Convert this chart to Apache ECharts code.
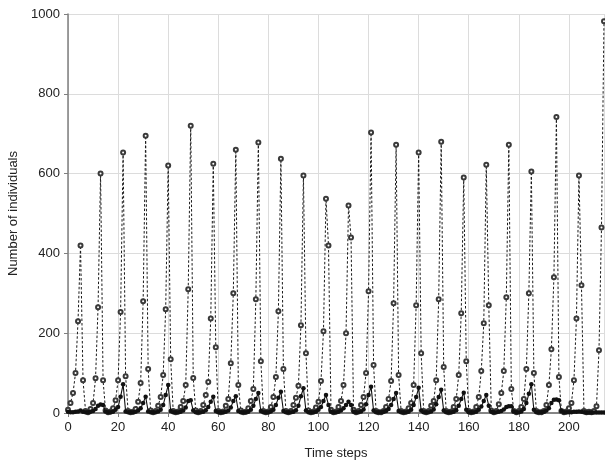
<!DOCTYPE html>
<html>
<head>
<meta charset="utf-8">
<script src="https://cdn.jsdelivr.net/npm/echarts@6/dist/echarts.min.js"></script>
<style>
  html, body { margin: 0; padding: 0; background: #fff; }
  #chart { width: 605px; height: 460px; }
</style>
</head>
<body>
<div id="chart"></div>
<script>
// Prey population per time step (t = 0 .. 214)
const prey = [
  8, 25, 50, 100, 230, 420, 82, 5,
  2, 10, 25, 87, 265, 600, 82, 6, 2,
  4, 12, 32, 82, 253, 653, 92, 5, 2,
  3, 10, 28, 75, 280, 695, 110, 6, 2,
  5, 18, 40, 95, 260, 620, 135, 5, 2,
  4, 15, 30, 70, 310, 720, 88, 6, 2,
  5, 20, 45, 78, 237, 625, 165, 5, 2,
  4, 18, 35, 125, 300, 660, 70, 6, 2,
  3, 12, 30, 60, 285, 678, 130, 5, 2,
  4, 15, 40, 90, 255, 637, 110, 5, 2,
  5, 20, 38, 68, 220, 595, 150, 6, 2,
  4, 14, 28, 80, 205, 537, 420, 8, 2,
  4, 15, 30, 70, 200, 520, 440, 8, 2,
  5, 20, 40, 100, 305, 703, 120, 5, 2,
  2, 5, 15, 35, 80, 275, 672, 95, 5, 2,
  4, 12, 25, 70, 270, 653, 150, 5, 2,
  5, 18, 30, 82, 285, 680, 115, 5, 2,
  4, 15, 35, 95, 250, 590, 130, 5, 2,
  4, 15, 40, 105, 225, 622, 270, 6, 2,
  5, 22, 50, 105, 290, 672, 60, 5, 2,
  5, 15, 35, 110, 300, 605, 100, 5, 2,
  2, 5, 20, 70, 160, 340, 742, 90, 5, 2,
  4, 12, 25, 82, 237, 595, 320, 5, 2, 3, 2, 5, 17, 157, 465, 982
];

// Predator population per time step (t = 0 .. 214)
const predator = [
  3, 2, 2, 3, 4, 6, 3, 2,
  2, 3, 5, 10, 18, 21, 20, 4, 2,
  2, 3, 8, 15, 41, 72, 4, 2, 2,
  2, 3, 6, 12, 25, 41, 4, 2, 2,
  2, 4, 8, 20, 45, 70, 5, 2, 2,
  2, 3, 6, 14, 30, 32, 6, 2, 2,
  2, 3, 7, 15, 28, 41, 5, 2, 2,
  2, 3, 6, 14, 30, 42, 5, 2, 2,
  2, 3, 8, 18, 35, 50, 5, 2, 2,
  2, 4, 8, 20, 38, 53, 5, 2, 2,
  2, 3, 7, 18, 42, 62, 6, 2, 2,
  2, 3, 8, 15, 30, 45, 20, 3, 2,
  2, 3, 6, 12, 20, 28, 20, 3, 2,
  2, 4, 9, 22, 45, 66, 6, 2, 2,
  2, 3, 5, 10, 20, 35, 50, 5, 2, 2,
  2, 3, 8, 20, 40, 63, 6, 2, 2,
  2, 4, 9, 22, 40, 58, 6, 2, 2,
  2, 3, 7, 18, 35, 51, 8, 2, 2,
  2, 3, 8, 16, 30, 45, 18, 3, 2,
  2, 3, 5, 9, 15, 17, 17, 4, 2,
  2, 4, 10, 25, 48, 72, 8, 2, 2,
  2, 3, 6, 12, 25, 33, 34, 32, 5, 2,
  2, 2, 2, 3, 3, 4, 3, 2, 1, 1, 1, 1, 1, 1, 1, 1
];

const xTitle = 'Time steps';
const yTitle = 'Number of individuals';

const pairs = arr => arr.map((v, t) => [t, v]);

const FONT = 'Liberation Sans, Arial, sans-serif';
const axisGray = '#7f7f7f';
const gridGray = '#dcdcdc';

const chart = echarts.init(document.getElementById('chart'), null, { renderer: 'canvas' });
chart.setOption({
  animation: false,
  backgroundColor: '#ffffff',
  grid: { left: 68, right: 1, top: 14, bottom: 47, containLabel: false, outerBoundsMode: 'none' },
  xAxis: [{
    type: 'value', min: 0, max: 214, interval: 20,
    name: xTitle, nameLocation: 'middle', nameGap: 34,
    nameTextStyle: { fontFamily: FONT, fontSize: 13, color: '#222' },
    axisLine: { show: true, onZero: false, lineStyle: { color: axisGray, width: 1.5 } },
    axisTick: { show: true, length: 4, lineStyle: { color: axisGray } },
    axisLabel: { fontFamily: FONT, fontSize: 13, color: '#222', margin: 8, showMaxLabel: false,
                 formatter: v => String(v) },
    splitLine: { show: true, lineStyle: { color: gridGray, width: 1 } }
  }, {
    type: 'value', min: 0, max: 214, position: 'top',
    axisLine: { show: true, lineStyle: { color: axisGray, width: 1.5 } },
    axisTick: { show: false }, axisLabel: { show: false }, splitLine: { show: false }
  }],
  yAxis: {
    type: 'value', min: 0, max: 1000, interval: 200,
    name: yTitle, nameLocation: 'middle', nameGap: 47, nameRotate: 90,
    nameTextStyle: { fontFamily: FONT, fontSize: 13, color: '#222' },
    axisLine: { show: true, lineStyle: { color: axisGray, width: 1.5 } },
    axisTick: { show: true, length: 4, lineStyle: { color: axisGray } },
    axisLabel: { fontFamily: FONT, fontSize: 13, color: '#222', margin: 8,
                 formatter: v => String(v) },
    splitLine: { show: true, lineStyle: { color: gridGray, width: 1 } }
  },
  series: [{
    name: 'Prey',
    type: 'line',
    data: pairs(prey),
    symbol: 'emptyCircle',
    symbolSize: 4,
    showSymbol: true,
    showAllSymbol: true,
    lineStyle: { color: '#1a1a1a', width: 1, type: [2.5, 2] },
    itemStyle: { color: '#3a3a3a', borderColor: '#3a3a3a', borderWidth: 0.9 },
    z: 2
  }, {
    name: 'Predator',
    type: 'line',
    data: pairs(predator),
    symbol: 'circle',
    symbolSize: 4.5,
    showSymbol: true,
    showAllSymbol: true,
    lineStyle: { color: '#111', width: 1.1 },
    itemStyle: { color: '#111' },
    z: 3
  }]
});
</script>
</body>
</html>
